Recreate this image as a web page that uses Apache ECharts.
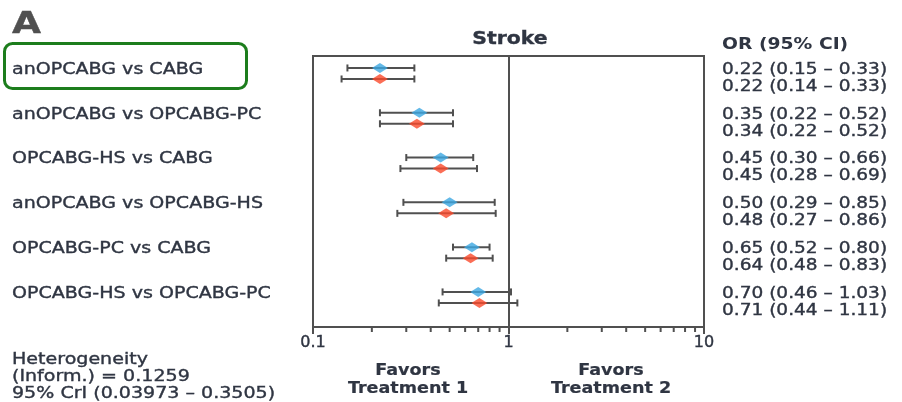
<!DOCTYPE html>
<html>
<head>
<meta charset="utf-8">
<script src="https://cdn.jsdelivr.net/npm/echarts@6/dist/echarts.min.js"></script>
<style>
  html, body { margin: 0; padding: 0; background: #fff; }
  #chart { width: 902px; height: 402px; }
</style>
</head>
<body>
<div id="chart"></div>
<script>
// Network meta-analysis: stroke, odds ratios with 95% CI per comparison
const comparisons = [
  'anOPCABG vs CABG',
  'anOPCABG vs OPCABG-PC',
  'OPCABG-HS vs CABG',
  'anOPCABG vs OPCABG-HS',
  'OPCABG-PC vs CABG',
  'OPCABG-HS vs OPCABG-PC'
];
// upper (blue) estimate per comparison
const orA   = [0.22, 0.35, 0.45, 0.50, 0.65, 0.70];
const lowA  = [0.15, 0.22, 0.30, 0.29, 0.52, 0.46];
const highA = [0.33, 0.52, 0.66, 0.85, 0.80, 1.03];
// lower (red) estimate per comparison
const orB   = [0.22, 0.34, 0.45, 0.48, 0.64, 0.71];
const lowB  = [0.14, 0.22, 0.28, 0.27, 0.48, 0.44];
const highB = [0.33, 0.52, 0.69, 0.86, 0.83, 1.11];

const xTicks = [0.1, 1, 10];
const minorTicks = [0.2, 0.3, 0.4, 0.5, 0.6, 0.7, 0.8, 0.9, 2, 3, 4, 5, 6, 7, 8, 9];
const heterogeneity = ['Heterogeneity', '(Inform.) = 0.1259', '95% CrI (0.03973 \u2013 0.3505)'];

const TEXT = '#2f3542';
const AXIS = '#505050';
const BLUE = '#3ca7e2';
const RED = '#fa4a2c';
const FONT = 'DejaVu Sans';
const PAIR = 0.123;       // vertical offset of each estimate from the row centre

const fmt = v => v.toFixed(2);

const chart = echarts.init(document.getElementById('chart'), null, { renderer: 'canvas' });

function errorBar(params, api) {
  const y = api.value(2);
  const a = api.coord([api.value(0), y]);
  const b = api.coord([api.value(1), y]);
  const h = 3.5;
  const st = { stroke: AXIS, lineWidth: 2 };
  return {
    type: 'group',
    children: [
      { type: 'line', shape: { x1: a[0], y1: a[1], x2: b[0], y2: b[1] }, style: st },
      { type: 'line', shape: { x1: a[0], y1: a[1] - h, x2: a[0], y2: a[1] + h }, style: st },
      { type: 'line', shape: { x1: b[0], y1: b[1] - h, x2: b[0], y2: b[1] + h }, style: st }
    ]
  };
}

// text drawn with a wide, horizontally stretched face
function textEl(x, y, text, sx, opts) {
  return {
    type: 'text', x: x, y: y, scaleX: sx,
    style: Object.assign({
      text: text, x: 0, y: 0, fill: TEXT,
      stroke: TEXT, lineWidth: 0.35,
      fontFamily: FONT, fontSize: 15, fontWeight: 'normal',
      align: 'left', verticalAlign: 'middle'
    }, opts || {})
  };
}

const option = {
  animation: false,
  grid: {
    left: 313, right: 198, top: 56, bottom: 75,
    show: true, borderColor: AXIS, borderWidth: 2, backgroundColor: 'transparent'
  },
  xAxis: {
    type: 'log', logBase: 10, min: 0.1, max: 10,
    axisLine: { show: true, onZero: false, lineStyle: { color: AXIS, width: 2 } },
    axisTick: { show: true, length: 7, lineStyle: { color: AXIS, width: 2 } },
    splitLine: { show: false },
    axisLabel: {
      color: TEXT, fontFamily: FONT, fontSize: 16, margin: 8,
      textBorderColor: TEXT, textBorderWidth: 0.4,
      formatter: v => (xTicks.some(t => Math.abs(t - v) < 1e-9) ? String(v) : '')
    }
  },
  yAxis: {
    type: 'value', inverse: true, min: -0.39, max: 5.66, show: false
  },
  graphic: [
    textEl(12, 25, 'A', 1.25, { fill: '#505050', stroke: '#505050', fontSize: 30, fontWeight: 'bold' }),
    { type: 'rect', shape: { x: 4.5, y: 43.5, width: 242, height: 45, r: 8 },
      style: { fill: 'none', stroke: '#1c7d1c', lineWidth: 3 } },
    textEl(510, 40, 'Stroke', 1.2, { fontWeight: 'bold', fontSize: 17, align: 'center' }),
    textEl(722, 45, 'OR (95% CI)', 1.25, { fontWeight: 'bold', lineWidth: 0 }),
    textEl(408, 371, 'Favors', 1.17, { fontWeight: 'bold', align: 'center', lineWidth: 0.2 }),
    textEl(408, 389, 'Treatment 1', 1.17, { fontWeight: 'bold', align: 'center', lineWidth: 0.2 }),
    textEl(611, 371, 'Favors', 1.17, { fontWeight: 'bold', align: 'center', lineWidth: 0.2 }),
    textEl(611, 389, 'Treatment 2', 1.17, { fontWeight: 'bold', align: 'center', lineWidth: 0.2 })
  ].concat(heterogeneity.map((t, i) => textEl(12, 360 + i * 17, t, 1.27))),
  series: [
    {
      name: 'ci-a', type: 'custom', renderItem: errorBar, silent: true, z: 3,
      data: comparisons.map((c, i) => [lowA[i], highA[i], i - PAIR])
    },
    {
      name: 'ci-b', type: 'custom', renderItem: errorBar, silent: true, z: 3,
      data: comparisons.map((c, i) => [lowB[i], highB[i], i + PAIR])
    },
    {
      name: 'or-a', type: 'scatter', symbol: 'diamond', symbolSize: [16, 10], z: 5,
      itemStyle: { color: BLUE },
      data: comparisons.map((c, i) => [orA[i], i - PAIR]),
      markLine: {
        silent: true, symbol: 'none', label: { show: false },
        lineStyle: { color: AXIS, width: 2, type: 'solid' },
        data: [{ xAxis: 1 }]
      }
    },
    {
      name: 'or-b', type: 'scatter', symbol: 'diamond', symbolSize: [16, 10], z: 5,
      itemStyle: { color: RED },
      data: comparisons.map((c, i) => [orB[i], i + PAIR])
    },
    {
      // minor ticks of the log axis
      name: 'minor-ticks', type: 'custom', silent: true,
      data: minorTicks.map(v => [v, 5.66]),
      renderItem: (params, api) => {
        const p = api.coord([api.value(0), api.value(1)]);
        return { type: 'line', shape: { x1: p[0], y1: p[1], x2: p[0], y2: p[1] + 5 },
                 style: { stroke: AXIS, lineWidth: 2 } };
      }
    },
    {
      // comparison names, left column
      name: 'row-labels', type: 'custom', silent: true,
      data: comparisons.map((c, i) => [1, i]),
      renderItem: (params, api) => {
        const p = api.coord([1, api.value(1)]);
        return textEl(12, p[1] - 3.5, comparisons[params.dataIndex], 1.27);
      }
    },
    {
      // OR (95% CI) text, right column
      name: 'ci-text', type: 'custom', silent: true,
      data: comparisons.map((c, i) => [orA[i], i]),
      renderItem: (params, api) => {
        const i = params.dataIndex;
        const p = api.coord([1, api.value(1)]);
        const ta = fmt(orA[i]) + ' (' + fmt(lowA[i]) + ' \u2013 ' + fmt(highA[i]) + ')';
        const tb = fmt(orB[i]) + ' (' + fmt(lowB[i]) + ' \u2013 ' + fmt(highB[i]) + ')';
        return {
          type: 'group',
          children: [textEl(722, p[1] - 3.5, ta, 1.235), textEl(722, p[1] + 13.5, tb, 1.235)]
        };
      }
    }
  ]
};

chart.setOption(option);
</script>
</body>
</html>
